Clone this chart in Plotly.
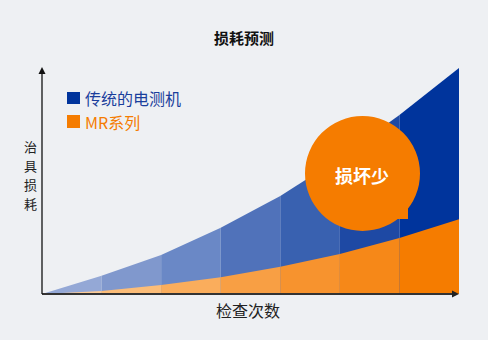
import plotly.graph_objects as go

# ---------------- data ----------------
checks = [0, 1, 2, 3, 4, 5, 6, 7]                      # 检查次数 (band boundaries)
traditional = [0, 8.1, 17.3, 29.3, 43.4, 60.2, 79.2, 100]  # 传统的电测机 治具损耗
mr_series = [0, 1.3, 4.0, 7.4, 12.1, 17.7, 24.8, 33.1]     # MR系列 治具损耗

title_text = "损耗预测"
y_label = "治具损耗"
x_label = "检查次数"
legend_names = ["传统的电测机", "MR系列"]
callout_text = "损坏少"

# ---------------- style ----------------
W, H = 488, 340
L, R, T, B = 42, 29, 68, 46
PW, PH = W - L - R, H - T - B
BG = "#EEF0F3"
BLUE = "#00349C"
ORANGE = "#F57C00"
FONT = "Noto Sans CJK SC"
blue_bands = ["#94A8D6", "#8098CD", "#6A88C6", "#5072BA", "#3961B0", "#1E49A4", "#00349C"]
orange_bands = ["#FDCB95", "#FCBD78", "#FAAD5C", "#F89F44", "#F7932E", "#F68818", "#F57C00"]


def px(xp):
    return (xp - L) / PW


def py(yp):
    return (H - B - yp) / PH


def path(points):
    return "M " + " L ".join(f"{px(a):.5f},{py(b):.5f}" for a, b in points) + " Z"


fig = go.Figure()

for i in range(len(checks) - 1):
    fig.add_trace(go.Scatter(
        x=[checks[i], checks[i + 1]], y=[traditional[i], traditional[i + 1]],
        mode="lines", line=dict(width=0), fill="tozeroy", fillcolor=blue_bands[i],
        hoverinfo="skip", showlegend=False))
for i in range(len(checks) - 1):
    fig.add_trace(go.Scatter(
        x=[checks[i], checks[i + 1]], y=[mr_series[i], mr_series[i + 1]],
        mode="lines", line=dict(width=0), fill="tozeroy", fillcolor=orange_bands[i],
        hoverinfo="skip", showlegend=False))

shapes = [
    # axes
    dict(type="line", xref="paper", yref="paper", x0=0, x1=px(453), y0=0, y1=0,
         line=dict(color="#333333", width=1.8)),
    dict(type="path", xref="paper", yref="paper", path=path([(452, 290.5), (459, 294), (452, 297.5)]),
         fillcolor="#222222", line=dict(width=0)),
    dict(type="line", xref="paper", yref="paper", x0=0, x1=0, y0=0, y1=py(73),
         line=dict(color="#111111", width=1.3)),
    dict(type="path", xref="paper", yref="paper", path=path([(38.5, 74), (42, 67), (45.5, 74)]),
         fillcolor="#111111", line=dict(width=0)),
    # legend squares
    dict(type="rect", xref="paper", yref="paper", x0=px(67), x1=px(80), y0=py(104), y1=py(92),
         fillcolor=BLUE, line=dict(width=0)),
    dict(type="rect", xref="paper", yref="paper", x0=px(67), x1=px(80), y0=py(128), y1=py(115),
         fillcolor=ORANGE, line=dict(width=0)),
    # callout bubble
    dict(type="circle", xref="paper", yref="paper", x0=px(305), x1=px(420), y0=py(231), y1=py(116),
         fillcolor=ORANGE, line=dict(width=0)),
    dict(type="rect", xref="paper", yref="paper", x0=px(394), x1=px(408), y0=py(219), y1=py(205),
         fillcolor=ORANGE, line=dict(width=0)),
]

annotations = [
    # title
    dict(xref="paper", yref="paper", x=px(244), y=py(37.5), text="<b>" + title_text + "</b>",
         showarrow=False, font=dict(family=FONT, size=15, color="#111111"),
         xanchor="center", yanchor="middle"),
    # x label
    dict(xref="paper", yref="paper", x=px(248), y=py(310), text=x_label,
         showarrow=False, font=dict(family=FONT, size=16, color="#222222"),
         xanchor="center", yanchor="middle"),
    # legend texts
    dict(xref="paper", yref="paper", x=px(83), y=py(98), text=legend_names[0],
         showarrow=False, font=dict(family=FONT, size=16, color="#1A3E9C"),
         xanchor="left", yanchor="middle"),
    dict(xref="paper", yref="paper", x=px(83), y=py(122), text=legend_names[1],
         showarrow=False, font=dict(family=FONT, size=16, color=ORANGE),
         xanchor="left", yanchor="middle"),
    # callout text
    dict(xref="paper", yref="paper", x=px(362), y=py(175), text="<b>" + callout_text + "</b>",
         showarrow=False, font=dict(family=FONT, size=18, color="white"),
         xanchor="center", yanchor="middle"),
]
# vertical y label: one character per annotation, stacked
n = len(y_label)
for k, ch in enumerate(y_label):
    annotations.append(dict(xref="paper", yref="paper", x=px(30),
                            y=py(175 + 19 * (k - (n - 1) / 2)), text=ch,
                            showarrow=False, font=dict(family=FONT, size=13, color="#222222"),
                            xanchor="center", yanchor="middle"))

fig.update_layout(
    width=W, height=H,
    margin=dict(l=L, r=R, t=T, b=B),
    paper_bgcolor=BG, plot_bgcolor=BG,
    xaxis=dict(range=[checks[0], checks[-1]], showgrid=False, zeroline=False,
               showticklabels=False, showline=False, ticks="", fixedrange=True),
    yaxis=dict(range=[0, 100], showgrid=False, zeroline=False,
               showticklabels=False, showline=False, ticks="", fixedrange=True),
    shapes=shapes,
    annotations=annotations,
    showlegend=False,
)

fig.write_html("out.html", config=dict(displayModeBar=False))
